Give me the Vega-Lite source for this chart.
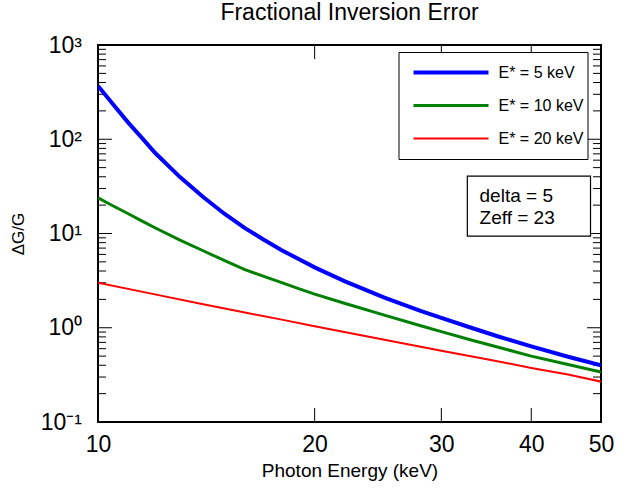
{
  "$schema": "https://vega.github.io/schema/vega-lite/v6.json",
  "autosize": {"type": "none"},
  "width": 503,
  "height": 377,
  "padding": {"left": 98, "top": 45, "right": 42, "bottom": 66},
  "background": "white",
  "title": {"text": "Fractional Inversion Error", "fontSize": 23, "fontWeight": "normal", "font": "Liberation Sans", "color": "black", "offset": 9},
  "config": {
    "view": {"stroke": "black", "strokeWidth": 2},
    "font": "Liberation Sans",
    "axis": {"domain": false, "ticks": false, "grid": false, "labelFont": "Liberation Sans", "labelColor": "black", "titleFont": "Liberation Sans", "titleColor": "black", "titleFontWeight": "normal"}
  },
  "datasets": {
    "curves": [
      {"E": 10, "G": 368, "s": "E* = 5 keV"},
      {"E": 10.5, "G": 234, "s": "E* = 5 keV"},
      {"E": 11, "G": 152, "s": "E* = 5 keV"},
      {"E": 11.5, "G": 104, "s": "E* = 5 keV"},
      {"E": 12, "G": 71.9, "s": "E* = 5 keV"},
      {"E": 13, "G": 39.7, "s": "E* = 5 keV"},
      {"E": 14, "G": 24.4, "s": "E* = 5 keV"},
      {"E": 15, "G": 16.1, "s": "E* = 5 keV"},
      {"E": 16, "G": 11.4, "s": "E* = 5 keV"},
      {"E": 17, "G": 8.59, "s": "E* = 5 keV"},
      {"E": 18, "G": 6.65, "s": "E* = 5 keV"},
      {"E": 19, "G": 5.36, "s": "E* = 5 keV"},
      {"E": 20, "G": 4.37, "s": "E* = 5 keV"},
      {"E": 22, "G": 3.13, "s": "E* = 5 keV"},
      {"E": 25, "G": 2.09, "s": "E* = 5 keV"},
      {"E": 28, "G": 1.52, "s": "E* = 5 keV"},
      {"E": 30, "G": 1.27, "s": "E* = 5 keV"},
      {"E": 33, "G": 1.0, "s": "E* = 5 keV"},
      {"E": 36, "G": 0.807, "s": "E* = 5 keV"},
      {"E": 40, "G": 0.634, "s": "E* = 5 keV"},
      {"E": 45, "G": 0.493, "s": "E* = 5 keV"},
      {"E": 50, "G": 0.399, "s": "E* = 5 keV"},
      {"E": 10, "G": 23.9, "s": "E* = 10 keV"},
      {"E": 10.5, "G": 19.6, "s": "E* = 10 keV"},
      {"E": 11, "G": 16.3, "s": "E* = 10 keV"},
      {"E": 11.5, "G": 13.6, "s": "E* = 10 keV"},
      {"E": 12, "G": 11.5, "s": "E* = 10 keV"},
      {"E": 13, "G": 8.49, "s": "E* = 10 keV"},
      {"E": 14, "G": 6.56, "s": "E* = 10 keV"},
      {"E": 15, "G": 5.15, "s": "E* = 10 keV"},
      {"E": 16, "G": 4.14, "s": "E* = 10 keV"},
      {"E": 17, "G": 3.51, "s": "E* = 10 keV"},
      {"E": 18, "G": 3.01, "s": "E* = 10 keV"},
      {"E": 19, "G": 2.6, "s": "E* = 10 keV"},
      {"E": 20, "G": 2.27, "s": "E* = 10 keV"},
      {"E": 22, "G": 1.82, "s": "E* = 10 keV"},
      {"E": 25, "G": 1.36, "s": "E* = 10 keV"},
      {"E": 28, "G": 1.057, "s": "E* = 10 keV"},
      {"E": 30, "G": 0.909, "s": "E* = 10 keV"},
      {"E": 33, "G": 0.741, "s": "E* = 10 keV"},
      {"E": 36, "G": 0.621, "s": "E* = 10 keV"},
      {"E": 40, "G": 0.5, "s": "E* = 10 keV"},
      {"E": 45, "G": 0.407, "s": "E* = 10 keV"},
      {"E": 50, "G": 0.339, "s": "E* = 10 keV"},
      {"E": 10, "G": 3.0, "s": "E* = 20 keV"},
      {"E": 12, "G": 2.26, "s": "E* = 20 keV"},
      {"E": 14, "G": 1.78, "s": "E* = 20 keV"},
      {"E": 16, "G": 1.45, "s": "E* = 20 keV"},
      {"E": 18, "G": 1.22, "s": "E* = 20 keV"},
      {"E": 20, "G": 1.04, "s": "E* = 20 keV"},
      {"E": 25, "G": 0.745, "s": "E* = 20 keV"},
      {"E": 30, "G": 0.571, "s": "E* = 20 keV"},
      {"E": 35, "G": 0.458, "s": "E* = 20 keV"},
      {"E": 40, "G": 0.375, "s": "E* = 20 keV"},
      {"E": 45, "G": 0.319, "s": "E* = 20 keV"},
      {"E": 50, "G": 0.268, "s": "E* = 20 keV"}
    ],
    "yticks": [
      {"v": 0.2, "k": "minor"}, {"v": 0.3, "k": "minor"}, {"v": 0.4, "k": "minor"}, {"v": 0.5, "k": "minor"}, {"v": 0.6, "k": "minor"}, {"v": 0.7, "k": "minor"}, {"v": 0.8, "k": "minor"}, {"v": 0.9, "k": "minor"},
      {"v": 1, "k": "major"},
      {"v": 2, "k": "minor"}, {"v": 3, "k": "minor"}, {"v": 4, "k": "minor"}, {"v": 5, "k": "minor"}, {"v": 6, "k": "minor"}, {"v": 7, "k": "minor"}, {"v": 8, "k": "minor"}, {"v": 9, "k": "minor"},
      {"v": 10, "k": "major"},
      {"v": 20, "k": "minor"}, {"v": 30, "k": "minor"}, {"v": 40, "k": "minor"}, {"v": 50, "k": "minor"}, {"v": 60, "k": "minor"}, {"v": 70, "k": "minor"}, {"v": 80, "k": "minor"}, {"v": 90, "k": "minor"},
      {"v": 100, "k": "major"},
      {"v": 200, "k": "minor"}, {"v": 300, "k": "minor"}, {"v": 400, "k": "minor"}, {"v": 500, "k": "minor"}, {"v": 600, "k": "minor"}, {"v": 700, "k": "minor"}, {"v": 800, "k": "minor"}, {"v": 900, "k": "minor"}
    ],
    "xticks": [{"v": 20}, {"v": 30}, {"v": 40}]
  },
  "resolve": {"axis": {"x": "independent", "y": "independent"}},
  "layer": [
    {
      "data": {"name": "yticks"},
      "transform": [{"filter": "datum.k == 'major'"}],
      "mark": {"type": "tick", "orient": "horizontal", "color": "black", "size": 14, "thickness": 1, "xOffset": 7, "opacity": 1},
      "encoding": {"x": {"datum": 10, "type": "quantitative", "axis": null}, "y": {"field": "v", "type": "quantitative", "axis": null}}
    },
    {
      "data": {"name": "yticks"},
      "transform": [{"filter": "datum.k == 'major'"}],
      "mark": {"type": "tick", "orient": "horizontal", "color": "black", "size": 14, "thickness": 1, "xOffset": -7, "opacity": 1},
      "encoding": {"x": {"datum": 50, "type": "quantitative", "axis": null}, "y": {"field": "v", "type": "quantitative", "axis": null}}
    },
    {
      "data": {"name": "yticks"},
      "transform": [{"filter": "datum.k == 'minor'"}],
      "mark": {"type": "tick", "orient": "horizontal", "color": "black", "size": 8, "thickness": 1, "xOffset": 4, "opacity": 1},
      "encoding": {"x": {"datum": 10, "type": "quantitative", "axis": null}, "y": {"field": "v", "type": "quantitative", "axis": null}}
    },
    {
      "data": {"name": "yticks"},
      "transform": [{"filter": "datum.k == 'minor'"}],
      "mark": {"type": "tick", "orient": "horizontal", "color": "black", "size": 8, "thickness": 1, "xOffset": -4, "opacity": 1},
      "encoding": {"x": {"datum": 50, "type": "quantitative", "axis": null}, "y": {"field": "v", "type": "quantitative", "axis": null}}
    },
    {
      "data": {"name": "xticks"},
      "mark": {"type": "tick", "orient": "vertical", "color": "black", "size": 14, "thickness": 1, "yOffset": -7, "opacity": 1},
      "encoding": {"x": {"field": "v", "type": "quantitative", "axis": null}, "y": {"datum": 0.1, "type": "quantitative", "axis": null}}
    },
    {
      "data": {"name": "xticks"},
      "mark": {"type": "tick", "orient": "vertical", "color": "black", "size": 14, "thickness": 1, "yOffset": 7, "opacity": 1},
      "encoding": {"x": {"field": "v", "type": "quantitative", "axis": null}, "y": {"datum": 1000, "type": "quantitative", "axis": null}}
    },
    {
      "data": {"name": "curves"},
      "mark": {"type": "line", "clip": true},
      "encoding": {
        "x": {"field": "E", "type": "quantitative", "scale": {"type": "log", "domain": [10, 50], "nice": false},
              "axis": {"orient": "bottom", "values": [10, 20, 30, 40, 50], "format": "d", "labelPadding": 11, "labelFontSize": 23, "labelFlush": false, "title": "Photon Energy (keV)", "titleFontSize": 19, "titlePadding": 5}},
        "y": {"field": "G", "type": "quantitative", "scale": {"type": "log", "domain": [0.1, 1000], "nice": false},
              "axis": {"orient": "left", "values": [0.1, 1, 10, 100, 1000],
                       "labelExpr": "datum.value == 1000 ? '10³' : datum.value == 100 ? '10²' : datum.value == 10 ? '10¹' : datum.value == 1 ? '10⁰' : '10⁻¹'",
                       "labelPadding": 16.5, "labelFontSize": 23, "labelFlush": false, "labelOverlap": false,
                       "title": "ΔG/G", "titleFontSize": 17, "titlePadding": 13}},
        "color": {"field": "s", "type": "nominal",
                  "scale": {"domain": ["E* = 5 keV", "E* = 10 keV", "E* = 20 keV"], "range": ["#0000ff", "#008000", "#ff0000"]},
                  "legend": {"orient": "none", "legendX": 300.5, "legendY": 7, "title": null, "symbolType": "stroke", "symbolSize": 5625, "clipHeight": 33, "padding": 4, "rowPadding": 0, "strokeColor": "black", "fillColor": "white", "labelFontSize": 16, "labelFont": "Liberation Sans", "labelColor": "black", "symbolOffset": 9, "labelOffset": 8}},
        "strokeWidth": {"field": "s", "type": "nominal",
                        "scale": {"domain": ["E* = 5 keV", "E* = 10 keV", "E* = 20 keV"], "range": [4, 2, 1]},
                        "legend": {"orient": "none", "legendX": 300.5, "legendY": 7, "title": null, "symbolType": "stroke", "symbolSize": 5625, "clipHeight": 33, "padding": 4, "rowPadding": 0, "strokeColor": "black", "fillColor": "white", "labelFontSize": 16, "labelFont": "Liberation Sans", "labelColor": "black", "symbolOffset": 9, "labelOffset": 8}}
      }
    },
    {
      "data": {"values": [{}]},
      "mark": {"type": "rect", "fill": "white", "stroke": "black", "strokeWidth": 1.2},
      "encoding": {
        "x": {"datum": 32.6, "type": "quantitative", "axis": null},
        "x2": {"datum": 48.35},
        "y": {"datum": 40.7, "type": "quantitative", "axis": null},
        "y2": {"datum": 9.4}
      }
    },
    {
      "data": {"values": [{}]},
      "mark": {"type": "text", "text": ["delta = 5", "Zeff = 23"], "align": "left", "baseline": "alphabetic", "fontSize": 19, "lineHeight": 22, "font": "Liberation Sans", "color": "black"},
      "encoding": {
        "x": {"datum": 33.9, "type": "quantitative", "axis": null},
        "y": {"datum": 21.6, "type": "quantitative", "axis": null}
      }
    }
  ]
}
